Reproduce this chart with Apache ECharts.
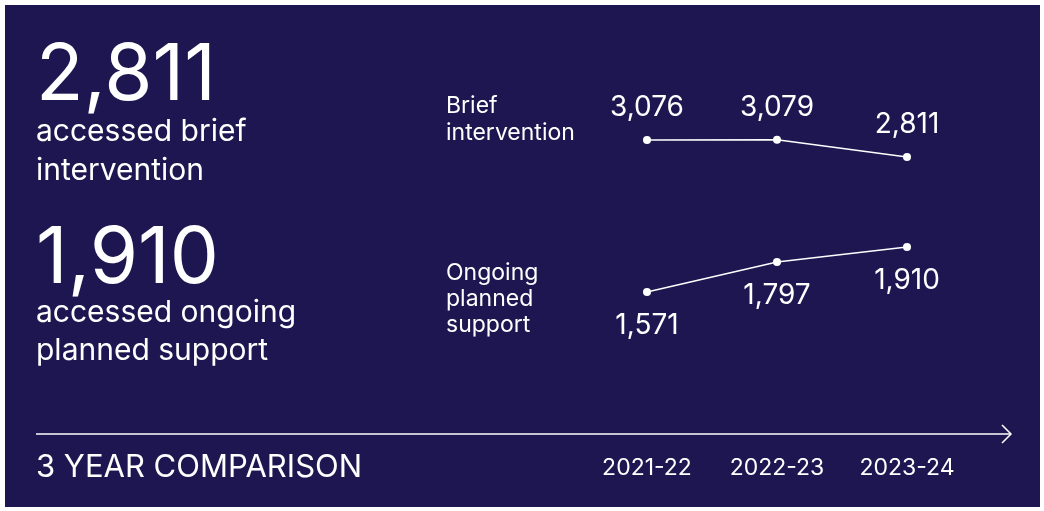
<!DOCTYPE html>
<html>
<head>
<meta charset="utf-8">
<script src="https://cdn.jsdelivr.net/npm/echarts@6/dist/echarts.min.js"></script>
<style>
html,body{margin:0;padding:0;background:#ffffff;}
#c{position:absolute;left:0;top:0;width:1044px;height:511px;}
</style>
</head>
<body>
<div id="c"></div>
<script>
var years = ['2021-22', '2022-23', '2023-24'];
var briefValues = [3076, 3079, 2811];
var ongoingValues = [1571, 1797, 1910];
var briefLabel = 'Brief\nintervention';
var ongoingLabel = 'Ongoing\nplanned\nsupport';
var briefCaption = 'accessed brief\nintervention';
var ongoingCaption = 'accessed ongoing\nplanned support';
var footerTitle = '3 YEAR COMPARISON';

var FONT = 'Inter, "Noto Sans", sans-serif';
var NAVY = '#1e1650';
function fmt(v){ return v.toLocaleString('en-US'); }

var chart = echarts.init(document.getElementById('c'), null, {renderer:'canvas'});

function lineSeries(idx, data, pos, dist){
  return {
    type:'line', xAxisIndex: idx, yAxisIndex: idx, data: data,
    symbol:'circle', symbolSize: 8, showAllSymbol: true,
    lineStyle:{color:'#ffffff', width:1.5},
    itemStyle:{color:'#ffffff'},
    label:{show:true, position: pos, distance: dist, color:'#ffffff', fontFamily: FONT, fontSize: 28,
      formatter: function(p){ return fmt(p.value); }},
    emphasis:{disabled:true}, silent:true, animation:false
  };
}
var hiddenY = function(idx, mn, mx){ return {type:'value', gridIndex: idx, min: mn, max: mx, show:false}; };
var hiddenX = function(idx){ return {type:'category', gridIndex: idx, data: years, boundaryGap:false, show:false}; };

chart.setOption({
  backgroundColor: 'transparent',
  animation: false,
  grid: [
    {left: 647, width: 260, top: 100, height: 100},
    {left: 647, width: 260, top: 200, height: 100},
    {left: 647, width: 260, top: 430, height: 4}
  ],
  xAxis: [
    hiddenX(0), hiddenX(1),
    {type:'category', gridIndex: 2, data: years, boundaryGap:false,
     axisLine:{show:false}, axisTick:{show:false}, splitLine:{show:false},
     axisLabel:{show:true, margin: 23, color:'#ffffff', fontFamily: FONT, fontSize: 23, interval:0}}
  ],
  yAxis: [hiddenY(0, 2140, 3700), hiddenY(1, 1510, 2264), hiddenY(2, 0, 1)],
  series: [
    lineSeries(0, briefValues, 'top', 14),
    lineSeries(1, ongoingValues, 'bottom', 16)
  ],
  graphic: [
    {type:'rect', z:-10, shape:{x:5, y:5, width:1035, height:502}, style:{fill: NAVY}, silent:true},
    {type:'text', left: 36, top: 38, style:{text: fmt(briefValues[briefValues.length-1]), fill:'#fff', font: '400 78px ' + FONT}},
    {type:'text', left: 36, top: 112, style:{text: briefCaption, fill:'#fff', font: '400 30px ' + FONT, lineHeight: 39}},
    {type:'text', left: 36, top: 221, style:{text: fmt(ongoingValues[ongoingValues.length-1]), fill:'#fff', font: '400 78px ' + FONT}},
    {type:'text', left: 36, top: 294, style:{text: ongoingCaption, fill:'#fff', font: '400 30px ' + FONT, lineHeight: 38}},
    {type:'text', left: 446, top: 93, style:{text: briefLabel, fill:'#fff', font: '400 23px ' + FONT, lineHeight: 27}},
    {type:'text', left: 446, top: 260, style:{text: ongoingLabel, fill:'#fff', font: '400 23px ' + FONT, lineHeight: 26}},
    {type:'text', left: 36, top: 452, style:{text: footerTitle, fill:'#fff', font: '400 31px ' + FONT}},
    {type:'line', shape:{x1:36, y1:434, x2:1011, y2:434}, style:{stroke:'#fff', lineWidth:1.5}},
    {type:'polyline', shape:{points:[[1002,425],[1011,434],[1002,443]]}, style:{stroke:'#fff', lineWidth:1.5, fill:null}}
  ]
});
</script>
</body>
</html>
